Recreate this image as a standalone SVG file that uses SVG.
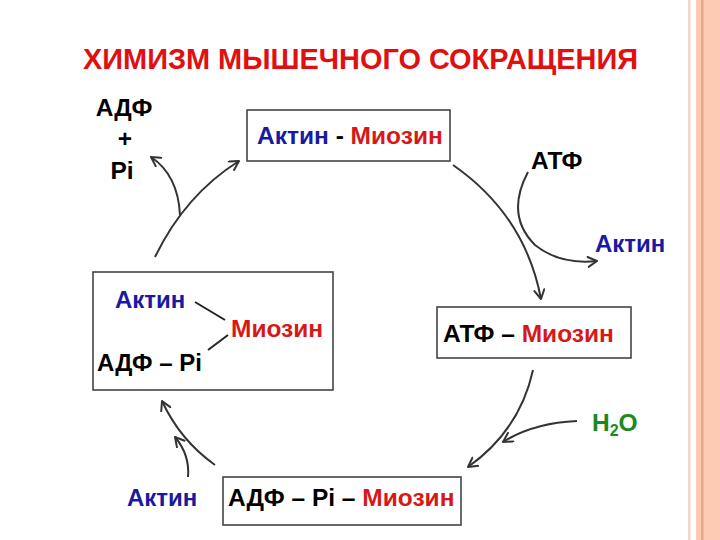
<svg xmlns="http://www.w3.org/2000/svg" width="720" height="540" viewBox="0 0 720 540">
<defs>
<marker id="ah" viewBox="0 0 12 12" refX="10" refY="6" markerWidth="12" markerHeight="12" markerUnits="userSpaceOnUse" orient="auto">
<path d="M1,1 L10,6 L1,11" fill="none" stroke="#333" stroke-width="2" stroke-linecap="round" stroke-linejoin="round"/>
</marker>
<style>
.t{font-family:"Liberation Sans",Arial,sans-serif;font-weight:bold;font-size:24.5px}
.s{font-size:24px}
.k{fill:#000}.b{fill:#1a1aa0}.r{fill:#d81818}.g{fill:#1a8a1a}
.box{fill:#fff;stroke:#444;stroke-width:1.6}
.c{fill:none;stroke:#333;stroke-width:2}
</style>
</defs>
<rect width="720" height="540" fill="#fff"/>
<g id="stripes">
<rect x="688" y="0" width="2.5" height="540" fill="#f6d4c6"/>
<rect x="696" y="0" width="24" height="540" fill="#fdcbb3"/>
<rect x="701" y="0" width="2.5" height="540" fill="#eaa88a"/>
</g>
<text id="title" x="83" y="69" textLength="555" lengthAdjust="spacingAndGlyphs" style="font-family:'Liberation Sans',Arial,sans-serif;font-weight:bold;font-size:30px;fill:#e01010">ХИМИЗМ МЫШЕЧНОГО СОКРАЩЕНИЯ</text>

<g id="connectors">
<path class="c" d="M155,257 Q185,195 239,161" marker-end="url(#ah)"/>
<path class="c" d="M180,215 Q178,175 151,157" marker-end="url(#ah)"/>
<path class="c" d="M453,165 Q525,215 541,299" marker-end="url(#ah)"/>
<path class="c" d="M528,172 Q505,215 535,245 Q560,265 597,261" marker-end="url(#ah)"/>
<path class="c" d="M533,370 Q520,430 468,467" marker-end="url(#ah)"/>
<path class="c" d="M577,421 Q533,423 503,442" marker-end="url(#ah)"/>
<path class="c" d="M215,465 Q180,440 162,401" marker-end="url(#ah)"/>
<path class="c" d="M188,477 Q190,455 175,437" marker-end="url(#ah)"/>
</g>

<g id="node-actomyosin">
<rect class="box" x="247" y="110" width="203" height="51"/>
<text class="t" x="257" y="144"><tspan class="b">Актин</tspan><tspan class="k"> - </tspan><tspan class="r">Миозин</tspan></text>
</g>
<g id="node-atp-myosin">
<rect class="box" x="437" y="307" width="194" height="51"/>
<text class="t" x="443" y="342"><tspan class="k">АТФ – </tspan><tspan class="r">Миозин</tspan></text>
</g>
<g id="node-adp-pi-myosin">
<rect class="box" x="223" y="477" width="238" height="48"/>
<text class="t" x="228" y="506"><tspan class="k">АДФ – Pi – </tspan><tspan class="r">Миозин</tspan></text>
</g>
<g id="node-complex">
<rect class="box" x="93" y="272" width="240" height="118"/>
<text class="t s b" x="115" y="308">Актин</text>
<text class="t r" x="231" y="337">Миозин</text>
<text class="t s k" x="97" y="371">АДФ – Pi</text>
<line x1="195" y1="302" x2="225" y2="320" stroke="#222" stroke-width="2"/>
<line x1="208" y1="350" x2="228" y2="335" stroke="#222" stroke-width="2"/>
</g>
<g id="label-adp-pi">
<text class="t k" x="124" y="116" text-anchor="middle">АДФ</text>
<text class="t k" x="125" y="147" text-anchor="middle">+</text>
<text class="t k" x="122" y="179" text-anchor="middle">Pi</text>
</g>
<g id="label-atp"><text class="t k" x="531" y="169">АТФ</text></g>
<g id="label-actin-right"><text class="t s b" x="595" y="252">Актин</text></g>
<g id="label-h2o"><text class="t g" x="592" y="431">H<tspan font-size="16" dy="5">2</tspan><tspan dy="-5">O</tspan></text></g>
<g id="label-actin-bottom"><text class="t s b" x="127" y="506">Актин</text></g>
</svg>
